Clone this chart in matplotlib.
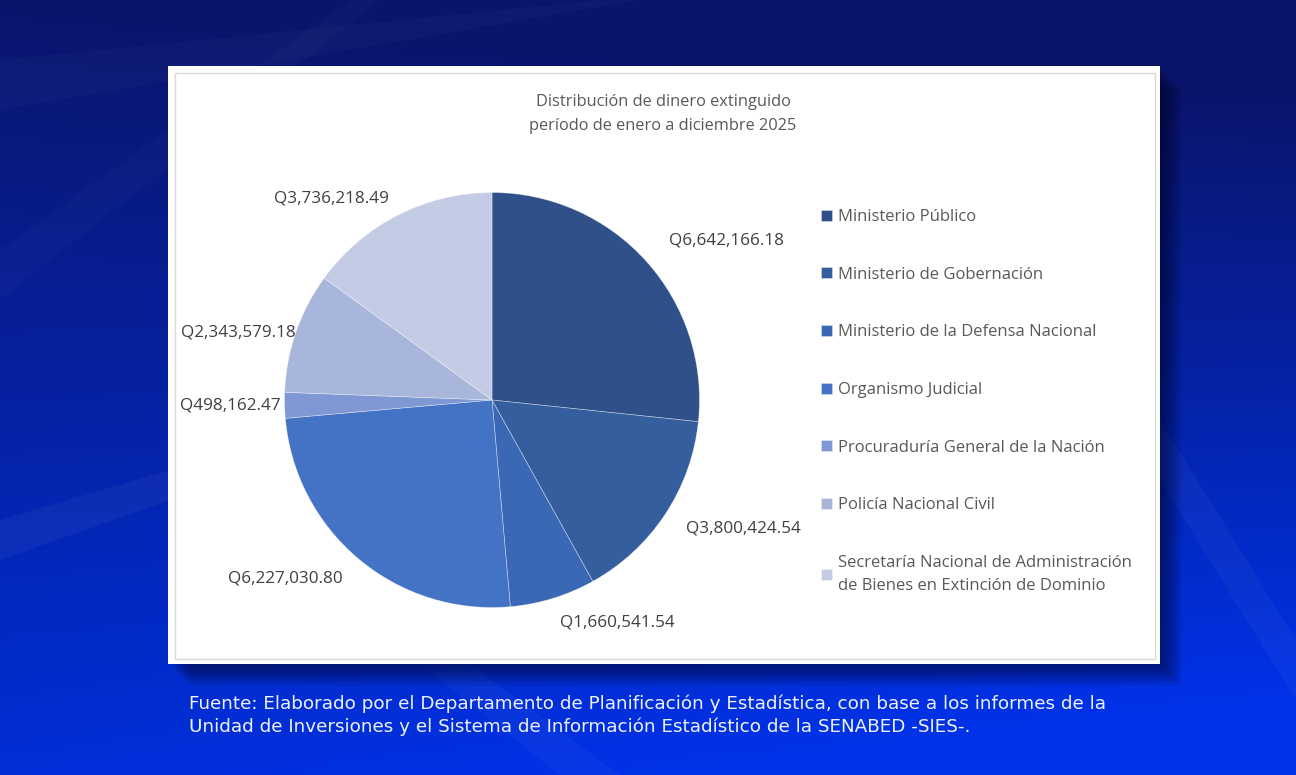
import numpy as np
import matplotlib.pyplot as plt
from matplotlib.patches import Rectangle, Polygon

# data
names = ["Ministerio Público",
         "Ministerio de Gobernación",
         "Ministerio de la Defensa Nacional",
         "Organismo Judicial",
         "Procuraduría General de la Nación",
         "Policía Nacional Civil",
         "Secretaría Nacional de Administración\nde Bienes en Extinción de Dominio"]
amounts = [6642166.18, 3800424.54, 1660541.54, 6227030.80, 498162.47, 2343579.18, 3736218.49]
colors = ["#2F5089", "#355E9F", "#3A68B4", "#4472C4", "#7F97D2", "#A8B6DC", "#C4CCE5"]
label_dist = [1.15, 1.12, 1.12, 1.12, 1.02, 1.0, 1.09]

title = "Distribución de dinero extinguido\nperíodo de enero a diciembre 2025"
source = ("Fuente: Elaborado por el Departamento de Planificación y Estadística, con base a los informes de la\n"
          "Unidad de Inversiones y el Sistema de Información Estadístico de la SENABED -SIES-.")

W, H = 1296, 775
fig = plt.figure(figsize=(W / 100, H / 100), dpi=100)

# background (pixel coordinates)
bg = fig.add_axes([0, 0, 1, 1])
bg.set_xlim(0, W)
bg.set_ylim(H, 0)
bg.set_axis_off()

yy, xx = np.mgrid[0:1:200j, 0:1:300j]
s = np.clip(0.85 * yy + 0.25 * xx * yy - 0.15 * (1 - yy) * xx, 0, 1)
dark = np.array([0.04, 0.08, 0.42])
bright = np.array([0.0, 0.2, 0.92])
grad = dark * (1 - s[..., None]) + bright * s[..., None]
bg.imshow(grad, extent=[0, W, H, 0], aspect="auto", zorder=0)

# faint light streaks
for pts, a in [([(0, 60), (600, 0), (640, 0), (0, 110)], 0.025),
               ([(0, 250), (350, 0), (380, 0), (0, 300)], 0.02),
               ([(0, 520), (170, 470), (170, 500), (0, 560)], 0.04),
               ([(1160, 420), (1296, 640), (1296, 700), (1160, 480)], 0.035),
               ([(420, 664), (560, 775), (620, 775), (470, 664)], 0.035)]:
    bg.add_patch(Polygon(pts, closed=True, color="white", alpha=a, lw=0, zorder=1))

# shadow + white card
for k in range(8):
    off = 4 + k * 2.5
    bg.add_patch(Rectangle((168 + off, 66 + off), 992, 598, color="#000010",
                           alpha=0.07, lw=0, zorder=2))
bg.add_patch(Rectangle((168, 66), 992, 598, facecolor="white", edgecolor="none", zorder=3))
bg.add_patch(Rectangle((175, 73), 980, 586, facecolor="none", edgecolor="#D9D9D9", lw=1, zorder=4))

# pie
cx, cy, r = 492, 400, 207.5
ax = fig.add_axes([(cx - r) / W, (H - cy - r) / H, 2 * r / W, 2 * r / H])
wedges, texts = ax.pie(amounts, colors=colors, startangle=90, counterclock=False,
                       labels=[f"Q{v:,.2f}" for v in amounts],
                       wedgeprops=dict(edgecolor=(1, 1, 1, 0.45), linewidth=0.5),
                       textprops=dict(fontsize=12.3, color="#404040", family="Open Sans"))
for w, t, d in zip(wedges, texts, label_dist):
    ang = np.deg2rad((w.theta1 + w.theta2) / 2)
    x, y = d * np.cos(ang), d * np.sin(ang)
    t.set_position((x, y))
    t.set_ha("left" if x > 0 else "right")
    t.set_va("center")
ax.set_xlim(-1, 1)
ax.set_ylim(-1, 1)
ax.set_zorder(5)

fig.text(663 / W, 1 - 114 / H, title, ha="center", va="center", fontsize=11.8,
         color="#595959", family="Open Sans", linespacing=1.75, zorder=6)

leg = fig.legend(wedges, names, loc="upper left", bbox_to_anchor=(806 / W, 1 - 194 / H),
                 frameon=False, labelspacing=2.5, handlelength=0.65,
                 handleheight=0.65, handletextpad=0.35,
                 prop=dict(family="Open Sans", size=12.0), labelcolor="#595959")
for t in leg.get_texts():
    t.set_linespacing(1.6)

fig.text(189 / W, 1 - 715 / H, source, ha="left", va="center", fontsize=13.2,
         color="#EEF2FF", family="DejaVu Sans", linespacing=1.3)

fig.savefig("out.png", dpi=100)
